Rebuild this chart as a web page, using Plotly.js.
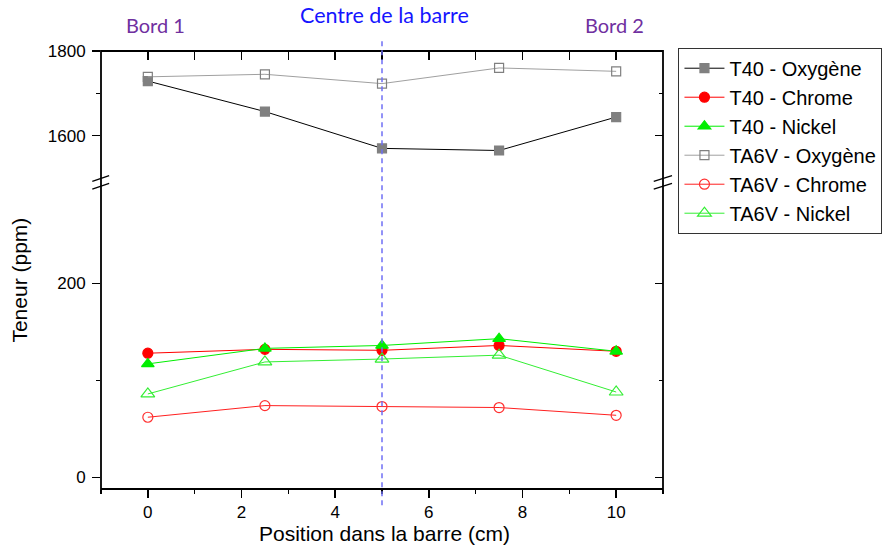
<!DOCTYPE html>
<html><head><meta charset="utf-8">
<script src="https://cdn.plot.ly/plotly-3.0.1.min.js"></script>
<style>html,body{margin:0;padding:0;background:#fff}</style>
</head><body><div id="chart" style="width:896px;height:546px"></div>
<script>
// ---- data ----
const positions = [0, 2.5, 5, 7.5, 10];
const t40Oxygene  = [1729, 1657, 1570, 1565, 1644];
const t40Chrome   = [128, 132, 131, 136, 130];
const t40Nickel   = [117, 133, 136, 143, 130];
const ta6vOxygene = [1739, 1745, 1723, 1760, 1752];
const ta6vChrome  = [62, 74, 73, 72, 64];
const ta6vNickel  = [86, 119, 122, 126, 88];
const seriesNames = ['T40 - Oxygène', 'T40 - Chrome', 'T40 - Nickel',
                     'TA6V - Oxygène', 'TA6V - Chrome', 'TA6V - Nickel'];
const xTickVals = [0, 2, 4, 6, 8, 10];
const lowerTickVals = [0, 200];
const lowerMinorVals = [100];
const upperTickVals = [1600, 1800];
const upperMinorVals = [1700];
const centreX = 5;
const xTitle = 'Position dans la barre (cm)';
const yTitle = 'Teneur (ppm)';
const topLabels = ['Bord 1', 'Centre de la barre', 'Bord 2'];

// ---- traces ----
const tickFont = {family: 'Liberation Sans, Arial, sans-serif', size: 17, color: '#000'};
function tr(name, y, yaxis, lineColor, symbol, mColor, mFill, size) {
  return {
    type: 'scatter', mode: 'lines+markers', name: name, x: positions, y: y,
    xaxis: 'x', yaxis: yaxis,
    line: {color: lineColor, width: 1},
    marker: {symbol: symbol, size: size, color: mFill, line: {color: mColor, width: 1.2}}
  };
}
const data = [
  tr(seriesNames[0], t40Oxygene, 'y2', '#000000', 'square', '#808080', '#808080', 9),
  tr(seriesNames[1], t40Chrome, 'y', '#ff0000', 'circle', '#ff0000', '#ff0000', 10),
  tr(seriesNames[2], t40Nickel, 'y', '#00ee00', 'triangle-up', '#00ee00', '#00ee00', 11),
  tr(seriesNames[3], ta6vOxygene, 'y2', '#a0a0a0', 'square-open', '#808080', '#808080', 9),
  tr(seriesNames[4], ta6vChrome, 'y', '#ff2020', 'circle-open', '#ff3030', '#ff3030', 10),
  tr(seriesNames[5], ta6vNickel, 'y', '#33ee33', 'triangle-up-open', '#33ee33', '#33ee33', 12),
  // empty helpers so the mirror axes get drawn
  {type: 'scatter', x: [], y: [], xaxis: 'x2', yaxis: 'y2', showlegend: false, hoverinfo: 'skip'},
  {type: 'scatter', x: [], y: [], xaxis: 'x', yaxis: 'y3', showlegend: false, hoverinfo: 'skip'},
  {type: 'scatter', x: [], y: [], xaxis: 'x', yaxis: 'y4', showlegend: false, hoverinfo: 'skip'}
];

const common = {showgrid: false, zeroline: false, showline: false, tickcolor: '#000', tickwidth: 1.5, tickfont: tickFont};
const lowerRange = [-12, 300];
const upperRange = [1493, 1800];
const lowerDomain = [0, 0.6909];
const upperDomain = [0.7032, 1];

const layout = {
  width: 896, height: 546,
  margin: {l: 101, r: 233, t: 51, b: 57},
  paper_bgcolor: '#fff', plot_bgcolor: '#fff',
  showlegend: true,
  legend: {
    x: 1.0275, y: 1.0075, xanchor: 'left', yanchor: 'top',
    bgcolor: '#fff', bordercolor: '#333', borderwidth: 1,
    font: {family: 'Liberation Sans, Arial, sans-serif', size: 20, color: '#000'},
    itemwidth: 40, tracegroupgap: 0
  },
  xaxis: Object.assign({}, common, {
    range: [-1, 11], anchor: 'y', ticks: 'outside', ticklen: 8,
    tickmode: 'array', tickvals: xTickVals,
    minor: {dtick: 1, tick0: 0, ticks: 'outside', ticklen: 4, tickwidth: 1.5, tickcolor: '#000'}
  }),
  xaxis2: Object.assign({}, common, {
    range: [-1, 11], overlaying: 'x', anchor: 'y2', side: 'top',
    ticks: 'inside', ticklen: 9, dtick: 1, tick0: 0, showticklabels: false
  }),
  yaxis: Object.assign({}, common, {
    domain: lowerDomain, range: lowerRange, anchor: 'x', ticks: 'outside', ticklen: 8,
    tickmode: 'array', tickvals: lowerTickVals, ticklabelstandoff: 3,
    minor: {tickmode: 'array', tickvals: lowerMinorVals, ticks: 'outside', ticklen: 4, tickwidth: 1.5, tickcolor: '#000'}
  }),
  yaxis2: Object.assign({}, common, {
    domain: upperDomain, range: upperRange, anchor: 'x', ticks: 'outside', ticklen: 8,
    tickmode: 'array', tickvals: upperTickVals, ticklabelstandoff: 3,
    minor: {tickmode: 'array', tickvals: upperMinorVals, ticks: 'outside', ticklen: 4, tickwidth: 1.5, tickcolor: '#000'}
  }),
  yaxis3: Object.assign({}, common, {
    range: lowerRange, overlaying: 'y', side: 'right', anchor: 'x', ticks: 'inside', ticklen: 8,
    tickmode: 'array', tickvals: lowerTickVals, showticklabels: false,
    minor: {tickmode: 'array', tickvals: lowerMinorVals, ticks: 'inside', ticklen: 4, tickwidth: 1.5, tickcolor: '#000'}
  }),
  yaxis4: Object.assign({}, common, {
    range: upperRange, overlaying: 'y2', side: 'right', anchor: 'x', ticks: 'inside', ticklen: 8,
    tickmode: 'array', tickvals: upperTickVals, showticklabels: false,
    minor: {tickmode: 'array', tickvals: upperMinorVals, ticks: 'inside', ticklen: 4, tickwidth: 1.5, tickcolor: '#000'}
  }),
  shapes: [
    {type: 'rect', xref: 'paper', yref: 'paper', x0: 0, x1: 1, y0: 0, y1: 1, line: {color: '#000', width: 1.8}},
    {type: 'line', xref: 'x', yref: 'paper', x0: centreX, x1: centreX, y0: -0.037, y1: 1.03,
     line: {color: '#6f6ff5', width: 1.5, dash: '5px,4px'}},
    // axis break marks
    {type: 'line', xref: 'paper', yref: 'paper', x0: -0.0155, x1: 0.0145, y0: 0.7025, y1: 0.7153, line: {color: '#000', width: 1.3}},
    {type: 'line', xref: 'paper', yref: 'paper', x0: -0.0155, x1: 0.0145, y0: 0.6849, y1: 0.6977, line: {color: '#000', width: 1.3}},
    {type: 'line', xref: 'paper', yref: 'paper', x0: 0.9835, x1: 1.0160, y0: 0.7025, y1: 0.7153, line: {color: '#000', width: 1.3}},
    {type: 'line', xref: 'paper', yref: 'paper', x0: 0.9835, x1: 1.0160, y0: 0.6849, y1: 0.6977, line: {color: '#000', width: 1.3}}
  ],
  annotations: [
    {text: xTitle, xref: 'paper', yref: 'paper', x: 0.505, y: -0.1005, xanchor: 'center', yanchor: 'middle',
     showarrow: false, font: {family: 'Liberation Sans, Arial, sans-serif', size: 21, color: '#000'}},
    {text: yTitle, xref: 'paper', yref: 'paper', x: -0.145, y: 0.477, xanchor: 'center', yanchor: 'middle',
     textangle: -90, showarrow: false, font: {family: 'Liberation Sans, Arial, sans-serif', size: 21, color: '#000'}},
    {text: topLabels[0], xref: 'paper', yref: 'paper', x: 0.097, y: 1.059, xanchor: 'center', yanchor: 'middle',
     showarrow: false, font: {family: 'Lato, sans-serif', size: 20, color: '#7030a0'}},
    {text: topLabels[1], xref: 'paper', yref: 'paper', x: 0.505, y: 1.082, xanchor: 'center', yanchor: 'middle',
     showarrow: false, font: {family: 'Lato, sans-serif', size: 21.5, color: '#1515ff'}},
    {text: topLabels[2], xref: 'paper', yref: 'paper', x: 0.913, y: 1.059, xanchor: 'center', yanchor: 'middle',
     showarrow: false, font: {family: 'Lato, sans-serif', size: 20, color: '#7030a0'}}
  ]
};

Plotly.newPlot('chart', data, layout, {displayModeBar: false, staticPlot: true});
</script>
</body></html>
